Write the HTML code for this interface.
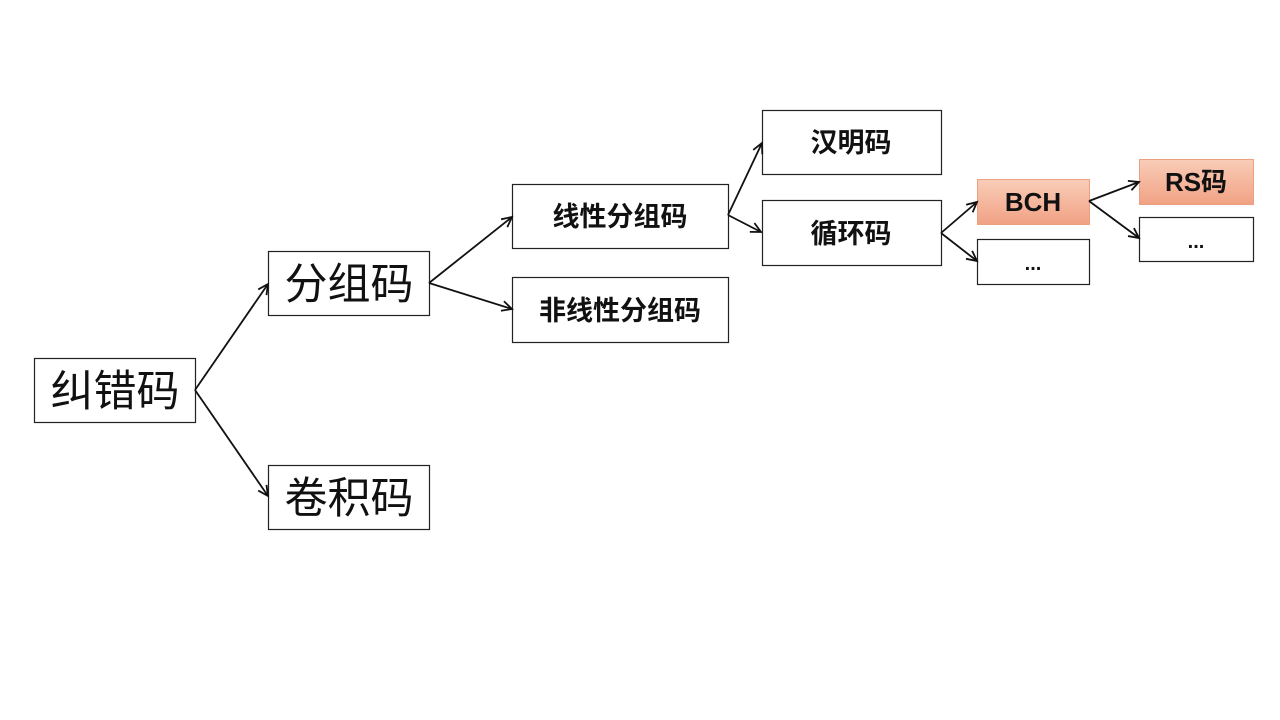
<!DOCTYPE html>
<html><head><meta charset="utf-8">
<style>
html,body{margin:0;padding:0;background:#fff;}
svg{display:block;}
.cjk{font-family:"Liberation Sans","Noto Sans CJK SC",sans-serif;}
</style></head>
<body>
<svg width="1280" height="720" viewBox="0 0 1280 720" xmlns="http://www.w3.org/2000/svg">
<defs>
<marker id="ah" markerWidth="14" markerHeight="14" refX="11" refY="7" orient="auto" markerUnits="userSpaceOnUse">
<polyline points="1,2 11,7 1,12" fill="none" stroke="#111" stroke-width="1.8"/>
</marker>
<linearGradient id="sal" x1="0" y1="0" x2="0" y2="1">
<stop offset="0" stop-color="#f9cdb8"/>
<stop offset="1" stop-color="#f1a184"/>
</linearGradient>
</defs>

<g fill="#fff" stroke="#222" stroke-width="1.2">
<rect x="34.5" y="358.5" width="161" height="64"/>
<rect x="268.5" y="251.5" width="161" height="64"/>
<rect x="268.5" y="465.5" width="161" height="64"/>
<rect x="512.5" y="184.5" width="216" height="64"/>
<rect x="512.5" y="277.5" width="216" height="65"/>
<rect x="762.5" y="110.5" width="179" height="64"/>
<rect x="762.5" y="200.5" width="179" height="65"/>
<rect x="977.5" y="239.5" width="112" height="45"/>
<rect x="1139.5" y="217.5" width="114" height="44"/>
</g>
<rect x="977.5" y="179.5" width="112" height="45" fill="url(#sal)" stroke="#eba080" stroke-width="1"/>
<rect x="1139.5" y="159.5" width="114" height="45" fill="url(#sal)" stroke="#eba080" stroke-width="1"/>

<g stroke="#111" stroke-width="1.8" fill="none" marker-end="url(#ah)">
<line x1="195" y1="390" x2="268" y2="284"/>
<line x1="195" y1="390" x2="268" y2="496"/>
<line x1="429" y1="283" x2="512" y2="217"/>
<line x1="429" y1="283" x2="512" y2="309"/>
<line x1="728" y1="215" x2="762" y2="143"/>
<line x1="728" y1="215" x2="761" y2="232"/>
<line x1="941" y1="233" x2="977" y2="202"/>
<line x1="941" y1="233" x2="977" y2="261"/>
<line x1="1089" y1="201" x2="1139" y2="182"/>
<line x1="1089" y1="201" x2="1139" y2="238"/>
</g>

<g class="cjk" fill="#111" text-anchor="middle" dominant-baseline="central">
<text x="115" y="392" font-size="43">纠错码</text>
<text x="349" y="285" font-size="43">分组码</text>
<text x="349" y="499" font-size="43">卷积码</text>
<text x="620" y="217" font-size="27" font-weight="bold">线性分组码</text>
<text x="620" y="311" font-size="27" font-weight="bold">非线性分组码</text>
<text x="851" y="143" font-size="27" font-weight="bold">汉明码</text>
<text x="851" y="234" font-size="27" font-weight="bold">循环码</text>
<text x="1033" y="202" font-size="26" font-weight="bold">BCH</text>
<text x="1196" y="182" font-size="26" font-weight="bold">RS码</text>
<text x="1033" y="264" font-size="20" font-weight="bold">...</text>
<text x="1196" y="242" font-size="20" font-weight="bold">...</text>
</g>
</svg>
</body></html>
